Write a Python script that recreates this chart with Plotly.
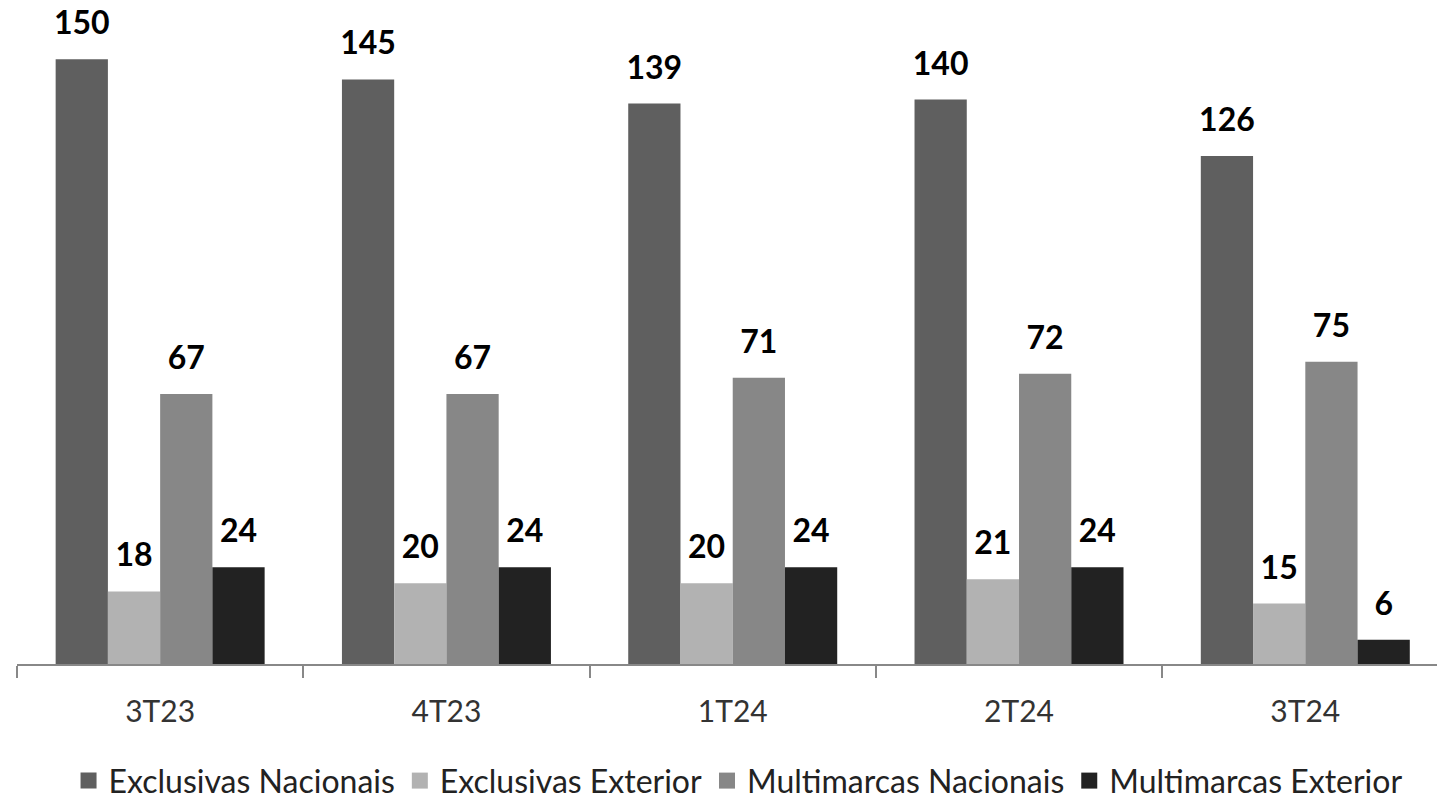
import plotly.graph_objects as go

categories = ["3T23", "4T23", "1T24", "2T24", "3T24"]
series_names = ["Exclusivas Nacionais", "Exclusivas Exterior", "Multimarcas Nacionais", "Multimarcas Exterior"]
exclusivas_nacionais = [150, 145, 139, 140, 126]
exclusivas_exterior = [18, 20, 20, 21, 15]
multimarcas_nacionais = [67, 67, 71, 72, 75]
multimarcas_exterior = [24, 24, 24, 24, 6]
series_values = [exclusivas_nacionais, exclusivas_exterior, multimarcas_nacionais, multimarcas_exterior]
colors = ["#5f5f5f", "#b2b2b2", "#878787", "#222222"]

FONT = "Lato"
fig = go.Figure()
for i, (name, vals, col) in enumerate(zip(series_names, series_values, colors)):
    fig.add_trace(go.Bar(
        x=categories, y=vals, name=name, marker=dict(color=col, line=dict(width=0)),
        offsetgroup=str(i), showlegend=False, legendgroup=name,
    ))
for i, (name, vals, col) in enumerate(zip(series_names, series_values, colors)):
    fig.add_trace(go.Scatter(
        x=categories, y=vals, mode="markers+text", text=[f"<b>{v}</b>" for v in vals],
        textposition="top center", textfont=dict(family=FONT, size=32, color="#000000"),
        marker=dict(size=25.6, opacity=0), showlegend=False, hoverinfo="skip",
        offsetgroup=str(i), cliponaxis=False,
    ))
# legend entries (square swatches)
for i, (name, col) in enumerate(zip(series_names, colors)):
    fig.add_trace(go.Scatter(
        x=[None], y=[None], mode="markers", name=name, legendgroup=name,
        marker=dict(symbol="square", size=20, color=col), offsetgroup=str(i),
        hoverinfo="skip",
    ))

fig.update_layout(
    width=1437, height=800,
    margin=dict(l=17, r=0, t=0, b=136),
    paper_bgcolor="white", plot_bgcolor="white",
    barmode="group", bargap=0.27, bargroupgap=0,
    scattermode="group", scattergap=0.27,
    font=dict(family=FONT, size=30, color="#333333"),
    showlegend=True,
    legend=dict(orientation="h", xref="container", yref="container",
                x=0.5136, xanchor="center", y=0.024, yanchor="middle",
                font=dict(family=FONT, size=32, color="#222222"), itemwidth=30,
                traceorder="normal"),
    xaxis=dict(type="category", range=[-0.5, 4.46], showline=True, linecolor="#888888", linewidth=2,
               ticks="outside", tickson="boundaries", ticklen=12, tickwidth=2, tickcolor="#888888",
               ticklabelstandoff=20,
               showgrid=False, zeroline=False, tickfont=dict(family=FONT, size=30, color="#333333")),
    yaxis=dict(range=[0, 164.7], visible=False, showgrid=False, zeroline=False),
)

fig.write_html("out.html", config={"displayModeBar": False},
               post_script="document.body.style.margin='0px';")
